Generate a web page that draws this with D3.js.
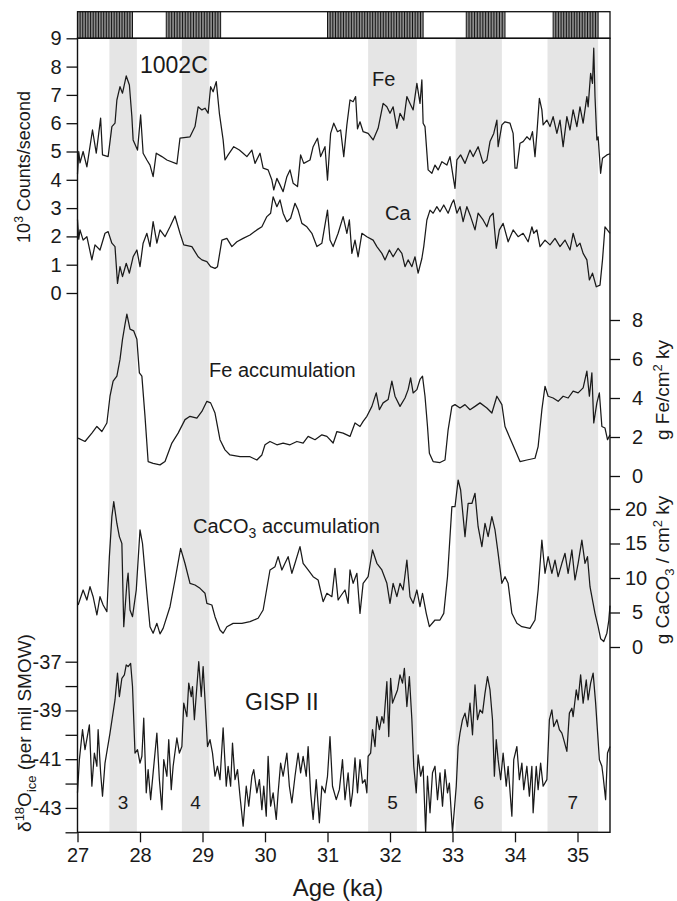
<!DOCTYPE html>
<html><head><meta charset="utf-8">
<script src="https://cdn.jsdelivr.net/npm/d3@7"></script>
<style>
body{margin:0;background:#fff}
svg{display:block}
text{font-family:"Liberation Sans",Arial,Helvetica,sans-serif;fill:#1a1a1a}
</style>
</head><body><svg id="c" width="677" height="901"></svg>
<script>
// ---------------- data ----------------
const ageTicks = [27, 28, 29, 30, 31, 32, 33, 34, 35];
const countTicks = [0, 1, 2, 3, 4, 5, 6, 7, 8, 9];
const feAccTicks = [0, 2, 4, 6, 8];
const caco3Ticks = [0, 5, 10, 15, 20];
const gispTicks = [-44, -43, -42, -41, -40, -39, -38, -37];
const gispLabelled = [-43, -41, -39, -37];

const interstadialNames = ["3", "4", "5", "6", "7"];
const interstadialStart = [27.51, 28.67, 31.65, 33.05, 34.52];
const interstadialEnd = [27.95, 29.11, 32.43, 33.79, 35.33];

const laminatedStart = [27.0, 28.42, 31.0, 33.22, 34.61];
const laminatedEnd = [27.88, 29.29, 32.53, 33.84, 35.33];

const feCounts = [[27.0,4.2],[27.02,5.0],[27.04,4.6],[27.09,5.0],[27.15,4.46],[27.24,5.76],[27.3,4.94],[27.37,6.18],[27.4,4.88],[27.49,4.82],[27.55,5.88],[27.6,6.0],[27.63,6.82],[27.68,7.29],[27.72,7.06],[27.78,7.67],[27.83,7.35],[27.87,6.23],[27.89,5.41],[27.96,5.05],[28.01,6.29],[28.05,4.94],[28.11,4.7],[28.16,4.52],[28.21,4.11],[28.26,4.94],[28.35,4.82],[28.43,4.7],[28.59,4.56],[28.64,5.47],[28.8,5.52],[28.88,5.88],[28.93,6.58],[28.99,6.47],[29.04,6.53],[29.09,6.35],[29.13,7.29],[29.17,7.11],[29.22,7.47],[29.27,6.35],[29.33,5.41],[29.36,4.7],[29.41,4.88],[29.5,5.17],[29.59,5.05],[29.65,4.94],[29.71,4.82],[29.79,5.05],[29.84,4.58],[29.92,4.94],[29.97,4.41],[30.05,4.35],[30.11,3.99],[30.14,3.64],[30.19,4.05],[30.24,3.82],[30.29,3.58],[30.35,4.11],[30.4,4.35],[30.45,3.88],[30.52,3.76],[30.57,4.88],[30.62,4.58],[30.72,4.7],[30.77,5.17],[30.84,5.47],[30.89,4.82],[30.96,5.17],[31.0,3.99],[31.05,5.64],[31.1,6.0],[31.16,5.7],[31.21,5.76],[31.26,4.82],[31.31,5.94],[31.36,6.82],[31.41,6.76],[31.45,6.94],[31.48,5.8],[31.52,6.05],[31.57,5.7],[31.65,5.64],[31.73,5.41],[31.81,5.82],[31.89,6.7],[31.95,6.58],[32.0,6.35],[32.05,6.58],[32.11,5.82],[32.16,6.35],[32.22,6.11],[32.27,6.94],[32.32,6.7],[32.37,6.47],[32.43,7.41],[32.48,6.7],[32.51,7.53],[32.53,6.0],[32.56,5.88],[32.61,4.35],[32.67,4.23],[32.72,4.52],[32.77,4.35],[32.83,4.64],[32.91,4.52],[32.96,4.82],[33.01,4.11],[33.04,3.7],[33.07,4.7],[33.13,4.88],[33.2,4.58],[33.28,5.05],[33.33,4.82],[33.41,5.17],[33.49,4.58],[33.55,4.7],[33.6,5.35],[33.66,5.64],[33.71,6.11],[33.73,5.17],[33.79,5.94],[33.84,6.05],[33.92,6.0],[33.97,5.64],[34.0,4.41],[34.03,4.41],[34.08,5.29],[34.13,5.35],[34.19,5.52],[34.24,5.41],[34.28,5.7],[34.32,4.82],[34.35,5.64],[34.39,6.88],[34.43,6.47],[34.45,5.94],[34.51,6.11],[34.56,5.88],[34.61,6.23],[34.67,5.64],[34.72,6.11],[34.77,5.17],[34.83,6.23],[34.88,5.76],[34.93,6.47],[34.99,5.88],[35.04,6.58],[35.09,6.0],[35.15,6.94],[35.17,6.58],[35.21,7.76],[35.24,7.41],[35.26,8.65],[35.28,6.94],[35.31,5.41],[35.33,5.52],[35.37,4.23],[35.4,4.76],[35.47,4.88],[35.52,4.92]];

const caCounts = [[27.0,2.6],[27.02,1.9],[27.04,2.23],[27.09,1.87],[27.15,1.99],[27.23,1.17],[27.28,1.7],[27.36,1.52],[27.44,2.11],[27.49,2.17],[27.55,1.76],[27.6,1.64],[27.64,0.34],[27.68,0.93],[27.72,0.58],[27.78,1.05],[27.83,0.7],[27.89,1.28],[27.95,1.52],[28.0,0.93],[28.05,1.76],[28.11,2.11],[28.16,1.64],[28.21,2.52],[28.27,1.76],[28.32,2.23],[28.4,1.99],[28.48,2.34],[28.56,2.72],[28.64,2.11],[28.7,1.7],[28.83,1.64],[28.93,1.28],[28.99,1.17],[29.07,1.11],[29.13,0.93],[29.2,0.87],[29.24,0.93],[29.31,1.87],[29.39,1.93],[29.47,1.64],[29.55,1.81],[29.65,1.93],[29.76,2.05],[29.87,2.23],[29.95,2.34],[30.03,2.7],[30.09,2.82],[30.13,3.4],[30.19,3.05],[30.24,3.29],[30.29,2.82],[30.35,2.52],[30.41,2.64],[30.48,3.17],[30.53,2.93],[30.59,2.46],[30.67,2.34],[30.75,2.11],[30.83,1.64],[30.91,1.76],[31.0,2.93],[31.04,1.87],[31.09,1.64],[31.17,2.11],[31.25,2.7],[31.31,2.11],[31.35,2.58],[31.39,1.4],[31.44,1.87],[31.49,1.28],[31.55,2.11],[31.63,1.99],[31.73,1.87],[31.79,1.64],[31.87,1.4],[31.92,1.17],[31.99,1.52],[32.05,1.28],[32.13,1.58],[32.19,1.4],[32.24,0.93],[32.29,1.17],[32.35,0.93],[32.4,1.28],[32.45,0.7],[32.51,1.22],[32.54,1.64],[32.59,2.58],[32.64,2.93],[32.69,2.82],[32.75,3.05],[32.8,2.87],[32.86,3.11],[32.93,2.82],[32.99,3.17],[33.02,3.29],[33.07,2.82],[33.12,3.05],[33.17,2.52],[33.23,3.05],[33.29,2.7],[33.36,2.23],[33.41,2.82],[33.49,2.58],[33.55,2.34],[33.6,2.7],[33.65,2.82],[33.7,1.58],[33.75,2.23],[33.81,2.46],[33.89,1.81],[33.97,2.23],[34.05,1.99],[34.13,2.11],[34.21,1.81],[34.27,2.34],[34.3,2.11],[34.35,2.23],[34.4,1.64],[34.48,1.87],[34.56,1.7],[34.64,1.93],[34.72,1.64],[34.8,1.87],[34.88,1.52],[34.93,2.11],[34.99,1.64],[35.04,1.76],[35.09,1.4],[35.15,1.17],[35.19,0.46],[35.24,0.7],[35.3,0.22],[35.36,0.28],[35.4,1.17],[35.44,2.34],[35.52,2.11]];

const feAccum = [[27.01,1.94],[27.12,1.77],[27.23,2.2],[27.31,2.54],[27.39,2.28],[27.47,2.72],[27.52,4.09],[27.57,4.86],[27.63,5.12],[27.68,5.98],[27.72,7.01],[27.76,7.78],[27.79,8.3],[27.84,7.53],[27.9,7.44],[27.95,7.01],[27.99,5.29],[28.03,5.12],[28.08,3.06],[28.13,0.74],[28.21,0.65],[28.32,0.57],[28.4,0.74],[28.51,1.69],[28.61,2.2],[28.72,2.89],[28.8,3.06],[28.91,2.97],[28.99,3.31],[29.07,3.83],[29.13,3.75],[29.2,3.23],[29.28,1.86],[29.36,1.34],[29.44,1.08],[29.6,0.99],[29.76,0.99],[29.87,0.82],[29.95,1.08],[30.0,1.6],[30.08,1.77],[30.19,1.6],[30.29,1.69],[30.4,1.6],[30.51,1.77],[30.61,1.69],[30.69,2.03],[30.8,1.86],[30.91,2.11],[30.99,2.03],[31.09,1.69],[31.15,2.28],[31.25,2.2],[31.36,2.03],[31.44,2.72],[31.52,2.54],[31.57,2.8],[31.63,3.06],[31.71,3.57],[31.78,4.26],[31.83,3.4],[31.89,3.75],[31.97,3.92],[32.03,4.86],[32.08,4.09],[32.16,3.57],[32.24,4.0],[32.29,4.43],[32.33,5.03],[32.37,4.26],[32.43,4.43],[32.48,4.95],[32.52,5.12],[32.56,4.09],[32.6,2.54],[32.63,1.17],[32.69,0.74],[32.8,0.69],[32.88,0.82],[32.93,2.37],[32.99,3.57],[33.04,3.66],[33.12,3.49],[33.2,3.66],[33.28,3.4],[33.36,3.57],[33.44,3.75],[33.55,3.49],[33.63,3.23],[33.71,4.09],[33.79,3.66],[33.84,2.54],[33.92,1.94],[34.0,1.34],[34.08,0.74],[34.19,0.82],[34.32,0.91],[34.37,1.51],[34.43,3.4],[34.48,4.6],[34.53,4.09],[34.61,4.0],[34.69,3.83],[34.77,4.09],[34.85,4.0],[34.93,4.35],[35.01,4.26],[35.09,4.52],[35.15,5.38],[35.19,4.09],[35.23,5.29],[35.26,2.72],[35.31,3.75],[35.35,4.26],[35.39,2.54],[35.44,2.46],[35.48,1.86],[35.52,2.11]];

const caco3Accum = [[27.01,6.09],[27.09,8.26],[27.15,6.81],[27.2,8.74],[27.25,7.29],[27.31,4.64],[27.36,7.29],[27.41,6.09],[27.47,5.12],[27.51,13.1],[27.55,18.9],[27.58,21.06],[27.63,17.9],[27.67,16.0],[27.71,15.0],[27.74,2.94],[27.79,9.23],[27.81,10.7],[27.84,5.36],[27.88,4.39],[27.94,8.26],[28.0,16.96],[28.04,15.0],[28.11,7.78],[28.16,2.94],[28.21,2.0],[28.27,3.43],[28.32,1.9],[28.37,2.7],[28.48,5.84],[28.56,9.71],[28.65,14.3],[28.72,12.1],[28.8,9.23],[28.88,8.99],[28.96,8.5],[29.04,7.78],[29.07,6.33],[29.15,6.09],[29.2,4.39],[29.28,2.46],[29.33,2.0],[29.39,2.94],[29.49,3.43],[29.63,3.43],[29.76,3.67],[29.89,4.16],[29.97,5.36],[30.08,11.16],[30.16,11.64],[30.21,13.09],[30.27,11.16],[30.32,12.13],[30.37,13.09],[30.43,10.68],[30.48,12.13],[30.56,14.54],[30.61,12.13],[30.69,11.16],[30.77,10.19],[30.85,9.71],[30.93,6.57],[30.99,7.78],[31.07,7.29],[31.12,11.4],[31.17,6.81],[31.22,7.5],[31.28,8.26],[31.33,6.33],[31.36,11.16],[31.41,9.23],[31.47,10.68],[31.52,4.88],[31.57,9.23],[31.65,10.19],[31.72,14.06],[31.79,12.13],[31.87,11.16],[31.95,9.23],[32.0,6.33],[32.05,9.23],[32.11,7.29],[32.16,9.23],[32.21,8.26],[32.27,12.6],[32.32,7.29],[32.37,6.33],[32.43,8.26],[32.48,5.84],[32.52,7.78],[32.58,4.88],[32.63,2.94],[32.72,3.91],[32.8,3.91],[32.86,4.88],[32.92,10.19],[32.99,20.33],[33.04,20.33],[33.09,24.2],[33.13,22.75],[33.16,19.86],[33.2,15.99],[33.25,20.8],[33.31,20.8],[33.36,22.28],[33.41,17.43],[33.47,14.54],[33.52,17.93],[33.57,15.99],[33.63,18.9],[33.68,16.96],[33.73,13.58],[33.79,9.23],[33.84,10.19],[33.89,9.23],[33.95,4.88],[34.03,3.43],[34.11,2.94],[34.24,2.7],[34.32,3.91],[34.37,8.26],[34.43,15.5],[34.48,10.68],[34.53,13.09],[34.59,10.68],[34.64,12.6],[34.69,10.19],[34.75,12.13],[34.8,13.58],[34.85,10.68],[34.91,14.06],[34.96,9.71],[35.01,12.13],[35.07,15.5],[35.12,12.13],[35.16,13.09],[35.2,8.74],[35.24,6.81],[35.28,4.88],[35.33,2.94],[35.37,1.2],[35.42,0.8],[35.47,2.0],[35.5,3.8],[35.52,6.0]];

const gisp = [[27.0,-42.38],[27.03,-41.02],[27.08,-39.79],[27.12,-40.61],[27.19,-39.59],[27.23,-42.11],[27.27,-40.75],[27.31,-41.29],[27.33,-39.79],[27.37,-41.56],[27.4,-42.52],[27.44,-41.16],[27.52,-39.93],[27.6,-38.57],[27.64,-37.47],[27.67,-38.43],[27.71,-37.68],[27.75,-37.54],[27.78,-37.13],[27.81,-37.2],[27.85,-37.07],[27.88,-38.02],[27.92,-40.75],[27.96,-40.61],[28.0,-41.16],[28.03,-40.88],[28.06,-39.32],[28.1,-42.38],[28.13,-41.43],[28.17,-42.66],[28.21,-41.56],[28.27,-39.93],[28.31,-41.84],[28.35,-43.07],[28.38,-41.02],[28.43,-41.7],[28.46,-40.2],[28.5,-42.25],[28.53,-41.29],[28.59,-40.13],[28.63,-40.75],[28.67,-40.48],[28.7,-38.7],[28.75,-39.25],[28.78,-37.88],[28.82,-38.43],[28.84,-38.02],[28.87,-39.38],[28.91,-38.02],[28.94,-37.0],[28.98,-38.43],[29.01,-37.2],[29.04,-38.57],[29.08,-40.48],[29.12,-40.2],[29.16,-40.75],[29.2,-41.7],[29.24,-41.29],[29.28,-41.84],[29.33,-39.72],[29.38,-42.11],[29.41,-41.29],[29.45,-42.11],[29.48,-40.34],[29.52,-41.84],[29.56,-41.43],[29.6,-42.52],[29.65,-43.75],[29.7,-42.11],[29.74,-42.93],[29.79,-41.7],[29.82,-41.43],[29.87,-42.38],[29.91,-41.84],[29.95,-43.07],[29.98,-42.11],[30.02,-43.34],[30.05,-40.88],[30.09,-42.93],[30.13,-42.38],[30.18,-43.47],[30.21,-42.38],[30.25,-41.16],[30.29,-41.7],[30.35,-40.75],[30.39,-42.11],[30.43,-42.79],[30.48,-41.7],[30.53,-40.75],[30.57,-41.56],[30.61,-40.88],[30.66,-41.7],[30.69,-40.48],[30.73,-42.38],[30.77,-43.47],[30.82,-41.84],[30.87,-43.61],[30.91,-42.11],[30.96,-42.38],[31.0,-41.7],[31.04,-40.07],[31.08,-42.11],[31.14,-42.66],[31.19,-42.25],[31.24,-41.02],[31.28,-42.66],[31.33,-41.56],[31.37,-42.93],[31.4,-42.38],[31.44,-40.95],[31.48,-42.38],[31.52,-41.02],[31.56,-41.98],[31.6,-41.84],[31.63,-42.38],[31.65,-40.88],[31.69,-40.75],[31.72,-39.79],[31.76,-40.48],[31.79,-39.25],[31.83,-39.79],[31.87,-39.25],[31.9,-39.52],[31.95,-37.82],[31.98,-40.07],[32.01,-37.68],[32.04,-38.7],[32.08,-38.43],[32.12,-38.16],[32.16,-37.54],[32.2,-37.88],[32.23,-37.27],[32.27,-38.84],[32.31,-37.61],[32.35,-39.38],[32.38,-41.29],[32.42,-42.38],[32.45,-40.82],[32.49,-41.7],[32.53,-41.29],[32.57,-44.0],[32.6,-41.7],[32.64,-43.2],[32.68,-41.56],[32.72,-41.29],[32.76,-42.66],[32.8,-41.56],[32.84,-42.93],[32.88,-41.43],[32.92,-42.38],[32.95,-41.98],[33.0,-44.0],[33.06,-42.11],[33.09,-40.48],[33.12,-39.93],[33.16,-39.38],[33.2,-39.11],[33.24,-39.66],[33.28,-38.7],[33.32,-40.0],[33.36,-37.95],[33.4,-39.38],[33.44,-38.98],[33.48,-39.11],[33.52,-38.29],[33.56,-37.61],[33.6,-38.16],[33.64,-39.38],[33.67,-41.7],[33.7,-40.2],[33.73,-41.02],[33.77,-41.84],[33.81,-40.75],[33.86,-42.11],[33.89,-41.29],[33.95,-43.34],[33.98,-41.02],[34.03,-40.48],[34.07,-41.84],[34.11,-41.16],[34.14,-42.25],[34.19,-41.29],[34.23,-42.52],[34.27,-41.29],[34.29,-43.2],[34.34,-41.29],[34.37,-42.25],[34.41,-41.16],[34.45,-42.11],[34.51,-41.84],[34.55,-39.38],[34.59,-38.98],[34.62,-39.66],[34.67,-39.38],[34.71,-39.79],[34.75,-39.93],[34.78,-40.2],[34.83,-40.68],[34.87,-39.11],[34.91,-38.91],[34.93,-39.25],[34.98,-38.16],[35.01,-38.57],[35.05,-37.54],[35.09,-38.7],[35.14,-37.75],[35.17,-38.57],[35.21,-37.88],[35.25,-37.47],[35.29,-38.7],[35.35,-41.02],[35.39,-41.29],[35.41,-41.7],[35.45,-42.66],[35.48,-40.75],[35.52,-40.48]];

// ---------------- drawing ----------------
const svg = d3.select("#c");
const L = 77.5, R = 610, T = 38.3, B = 832.3, barTop = 11.7;

const x = d3.scaleLinear().domain([27, 35.52]).range([L, R]);
const yCounts = d3.scaleLinear().domain([0, 9]).range([293, T]);
const yFe = d3.scaleLinear().domain([0, 8]).range([476, 320]);
const yCa = d3.scaleLinear().domain([0, 20]).range([647, 509]);
const yG = d3.scaleLinear().domain([-44, -37]).range([B, 661.7]);

// interstadial bands
svg.append("g").selectAll("rect").data(interstadialStart).join("rect")
  .attr("x", (d) => x(d)).attr("y", T)
  .attr("width", (d, i) => x(interstadialEnd[i]) - x(d))
  .attr("height", B - T).attr("fill", "#e5e5e5");

// laminated bar at top
const bar = svg.append("g");
laminatedStart.forEach((s, i) => {
  const e = laminatedEnd[i];
  bar.append("rect").attr("x", x(s)).attr("y", barTop)
    .attr("width", x(e) - x(s)).attr("height", T - barTop).attr("fill", "#8c8c8c");
  const n = Math.floor((x(e) - x(s)) / 2.6);
  for (let k = 0; k <= n; k++) {
    const px = x(s) + k * (x(e) - x(s)) / n;
    bar.append("line").attr("x1", px).attr("x2", px)
      .attr("y1", barTop).attr("y2", T).attr("stroke", "#151515").attr("stroke-width", 1);
  }
});

// series
function drawSeries(data, y) {
  svg.append("path").datum(data)
    .attr("d", d3.line().x(d => x(d[0])).y(d => y(d[1])))
    .attr("fill", "none").attr("stroke", "#1a1a1a")
    .attr("stroke-width", 1.25).attr("stroke-linejoin", "round");
}
drawSeries(feCounts, yCounts);
drawSeries(caCounts, yCounts);
drawSeries(feAccum, yFe);
drawSeries(caco3Accum, yCa);
drawSeries(gisp, yG);

// frames
svg.append("rect").attr("x", L).attr("y", barTop).attr("width", R - L).attr("height", T - barTop)
  .attr("fill", "none").attr("stroke", "#111").attr("stroke-width", 1.3);
svg.append("rect").attr("x", L).attr("y", T).attr("width", R - L).attr("height", B - T)
  .attr("fill", "none").attr("stroke", "#111").attr("stroke-width", 1.4);

function styleAxis(g) {
  g.select(".domain").remove();
  g.selectAll(".tick line").attr("stroke", "#111").attr("stroke-width", 1.3);
  g.selectAll(".tick text").attr("fill", "#1a1a1a")
    .style("font-family", '"Liberation Sans", Arial, sans-serif').style("font-size", "20px");
}

svg.append("g").attr("transform", `translate(${L},0)`)
  .call(d3.axisLeft(yCounts).tickValues(countTicks).tickSize(11).tickPadding(5).tickFormat(d3.format("d")))
  .call(styleAxis);

svg.append("g").attr("transform", `translate(${L},0)`)
  .call(d3.axisLeft(yG).tickValues(gispTicks).tickSize(12).tickPadding(4)
    .tickFormat(d => gispLabelled.includes(d) ? String(d) : ""))
  .call(styleAxis);

svg.append("g").attr("transform", `translate(${R},0)`)
  .call(d3.axisRight(yFe).tickValues(feAccTicks).tickSize(10).tickPadding(12).tickFormat(d3.format("d")))
  .call(styleAxis);

svg.append("g").attr("transform", `translate(${R},0)`)
  .call(d3.axisRight(yCa).tickValues(caco3Ticks).tickSize(10).tickPadding(5).tickFormat(d3.format("d")))
  .call(styleAxis)
  .call(g => g.selectAll(".tick text").attr("x", d => d < 10 ? 22 : 15));

svg.append("g").attr("transform", `translate(0,${B})`)
  .call(d3.axisBottom(x).tickValues(ageTicks).tickSize(10).tickPadding(6).tickFormat(d3.format("d")))
  .call(styleAxis);

// ---------------- texts ----------------
function txt(xp, yp, s, size, anchor) {
  return svg.append("text").attr("x", xp).attr("y", yp).text(s)
    .style("font-size", size + "px").attr("text-anchor", anchor || "start");
}
txt(140, 73, "1002C", 23);
txt(372, 86, "Fe", 20);
txt(385, 220, "Ca", 20);
txt(209, 377, "Fe accumulation", 20);
const cc = svg.append("text").attr("x", 193).attr("y", 533).style("font-size", "20px");
cc.append("tspan").text("CaCO");
cc.append("tspan").text("3").style("font-size", "14px").attr("dy", 5);
cc.append("tspan").text(" accumulation").attr("dy", -5);
txt(245, 710, "GISP II", 23);
interstadialNames.forEach((n, i) => {
  txt((x(interstadialStart[i]) + x(interstadialEnd[i])) / 2, 809, n, 19, "middle");
});

txt(338, 896, "Age (ka)", 24, "middle");

// left titles
const lt = svg.append("text").attr("transform", "translate(30,167) rotate(-90)")
  .attr("text-anchor", "middle").style("font-size", "18px");
lt.append("tspan").text("10");
lt.append("tspan").text("3").style("font-size", "12px").attr("dy", -7);
lt.append("tspan").text(" Counts/second").attr("dy", 7);

const gt = svg.append("text").attr("transform", "translate(31,733) rotate(-90)")
  .attr("text-anchor", "middle").style("font-size", "19px");
gt.append("tspan").text("δ");
gt.append("tspan").text("18").style("font-size", "13px").attr("dy", -7);
gt.append("tspan").text("O").attr("dy", 7);
gt.append("tspan").text("ice").style("font-size", "13px").attr("dy", 5);
gt.append("tspan").text(" (per mil SMOW)").attr("dy", -5);

// right titles
const rt1 = svg.append("text").attr("transform", "translate(669,390) rotate(-90)")
  .attr("text-anchor", "middle").style("font-size", "19px");
rt1.append("tspan").text("g Fe/cm");
rt1.append("tspan").text("2").style("font-size", "13px").attr("dy", -7);
rt1.append("tspan").text(" ky").attr("dy", 7);

const rt2 = svg.append("text").attr("transform", "translate(669,570) rotate(-90)")
  .attr("text-anchor", "middle").style("font-size", "19px");
rt2.append("tspan").text("g CaCO");
rt2.append("tspan").text("3").style("font-size", "13px").attr("dy", 5);
rt2.append("tspan").text(" / cm").attr("dy", -5);
rt2.append("tspan").text("2").style("font-size", "13px").attr("dy", -7);
rt2.append("tspan").text(" ky").attr("dy", 7);
</script>
</body></html>
